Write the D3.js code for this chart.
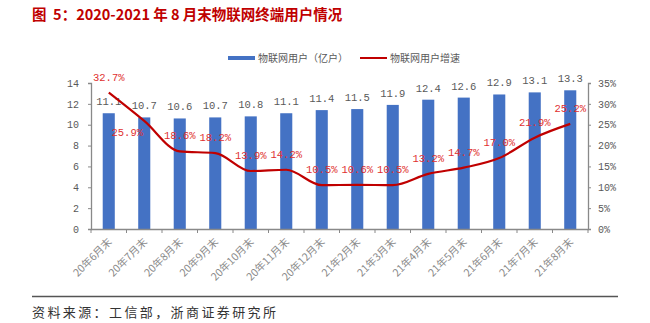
<!DOCTYPE html>
<html><head><meta charset="utf-8">
<script src="https://cdn.jsdelivr.net/npm/d3@7"></script>
<style>body{margin:0;background:#fff}svg{display:block}text{white-space:pre}</style>
</head><body>
<svg id="c" width="650" height="323"></svg>
<script>
const categories = ["20年6月末","20年7月末","20年8月末","20年9月末","20年10月末","20年11月末","20年12月末","21年2月末","21年3月末","21年4月末","21年5月末","21年6月末","21年7月末","21年8月末"];
const users = [11.1,10.7,10.6,10.7,10.8,11.1,11.4,11.5,11.9,12.4,12.6,12.9,13.1,13.3];
const growth = [32.7,25.9,18.6,18.2,13.9,14.2,10.5,10.6,10.5,13.2,14.7,17.0,21.9,25.2];
const leftTicks = [0,2,4,6,8,10,12,14];
const rightTicks = [0,5,10,15,20,25,30,35];
const title = "图  5：2020-2021 年 8 月末物联网终端用户情况";
const source = "资料来源：工信部，浙商证券研究所";
const legendBar = "物联网用户（亿户）";
const legendLine = "物联网用户增速";

const svg = d3.select("#c");
const L = 91, R = 588, T = 83, B = 229;
const x = d3.scaleBand().domain(categories).range([L, R]).paddingInner(0.66).paddingOuter(0.33);
const yL = d3.scaleLinear().domain([0,14]).range([B,T]);
const yR = d3.scaleLinear().domain([0,35]).range([B,T]);
const grey = "#898989", txt = "#595959", blue = "#4472C4", red = "#C00000";
const sans = "'Noto Sans CJK SC', sans-serif";
const serifNum = "'Liberation Mono', 'DejaVu Sans Mono', monospace";

svg.append("text").attr("x",32).attr("y",20).attr("fill","#C00000")
  .attr("font-family",sans).attr("font-weight","bold").attr("font-size",14.5).text(title);

// legend
svg.append("rect").attr("x",228).attr("y",56).attr("width",27).attr("height",4).attr("fill",blue);
svg.append("text").attr("x",258).attr("y",61.5).attr("font-family",sans).attr("font-size",10).attr("fill",txt).text(legendBar);
svg.append("line").attr("x1",360).attr("x2",387).attr("y1",58).attr("y2",58).attr("stroke",red).attr("stroke-width",2);
svg.append("text").attr("x",390).attr("y",61.5).attr("font-family",sans).attr("font-size",10).attr("fill",txt).text(legendLine);

// bars
svg.append("g").selectAll("rect").data(users).join("rect")
  .attr("x",(d,i)=>x(categories[i])).attr("width",x.bandwidth())
  .attr("y",d=>yL(d)).attr("height",d=>B-yL(d)).attr("fill",blue);

// bar labels
svg.append("g").selectAll("text").data(users).join("text")
  .attr("x",(d,i)=>x(categories[i])+x.bandwidth()/2).attr("y",d=>yL(d)-8)
  .attr("text-anchor","middle").attr("font-family",serifNum).attr("font-size",10.5).attr("fill",txt)
  .text(d=>d.toFixed(1));

// axes
const gl = svg.append("g").attr("transform",`translate(${L},0)`)
  .call(d3.axisLeft(yL).tickValues(leftTicks).tickSize(3).tickPadding(9));
const gr = svg.append("g").attr("transform",`translate(${R},0)`)
  .call(d3.axisRight(yR).tickValues(rightTicks).tickSize(3).tickPadding(7).tickFormat(d=>d+"%"));
const gb = svg.append("g").attr("transform",`translate(0,${B})`)
  .call(d3.axisBottom(x).tickSize(0).tickFormat(""));
[gl,gr,gb].forEach(g=>{
  g.select(".domain").attr("stroke",grey).attr("stroke-width",1.3);
  g.selectAll(".tick line").attr("stroke",grey);
  g.selectAll("text").attr("fill",txt).attr("font-family",serifNum).attr("font-size",10);
});
// x boundary ticks
const bounds = d3.range(categories.length+1).map(i=>L+i*(R-L)/categories.length);
svg.append("g").selectAll("line").data(bounds).join("line")
  .attr("x1",d=>d).attr("x2",d=>d).attr("y1",B).attr("y2",B+4).attr("stroke",grey);

// x labels
svg.append("g").selectAll("text").data(categories).join("text")
  .attr("transform",d=>`translate(${x(d)+x.bandwidth()/2+1},${B+11}) rotate(-45)`)
  .attr("text-anchor","end").attr("dy","0.35em")
  .attr("font-family",sans).attr("font-size",10.5).attr("fill","#8a8a8a").text(d=>d);

// line
const px = (d,i)=>x(categories[i])+x.bandwidth()/2;
svg.append("path").datum(growth)
  .attr("d",d3.line().x(px).y(d=>yR(d)).curve(d3.curveMonotoneX))
  .attr("fill","none").attr("stroke",red).attr("stroke-width",2.2);

svg.append("g").selectAll("text").data(growth).join("text")
  .attr("x",(d,i)=> i===1 ? px(d,i)-17 : px(d,i))
  .attr("y",(d,i)=> i===1 ? yR(d)+15 : yR(d)-12)
  .attr("text-anchor","middle").attr("font-family",serifNum).attr("font-size",10.5).attr("fill","#E03030")
  .text(d=>d.toFixed(1)+"%");

// bottom rule and source
svg.append("line").attr("x1",32).attr("x2",618).attr("y1",296.5).attr("y2",296.5).attr("stroke","#555").attr("stroke-width",1.3);
svg.append("text").attr("x",32).attr("y",317).attr("font-family",sans).attr("font-size",13).attr("letter-spacing",2.4).attr("fill","#333").text(source);
</script>
</body></html>
